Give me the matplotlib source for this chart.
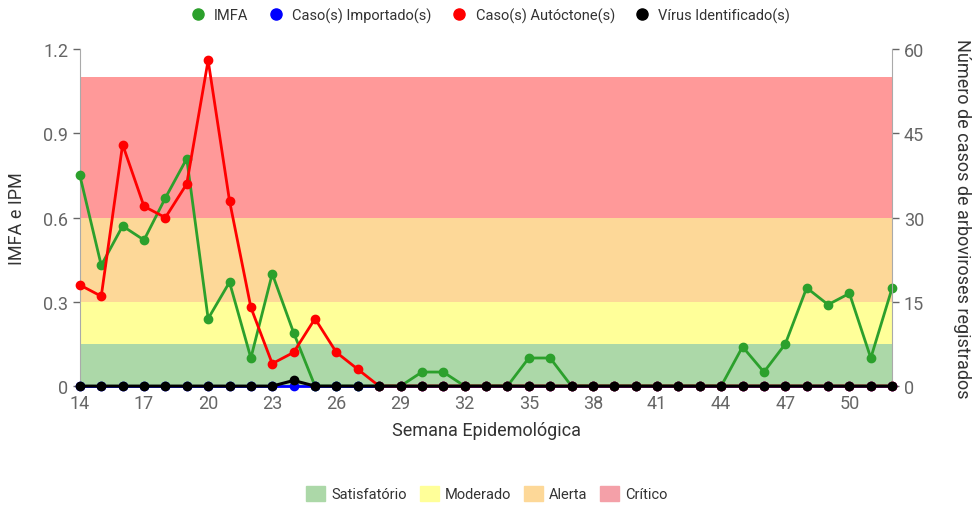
import numpy as np
import matplotlib
matplotlib.use("Agg")
import matplotlib.pyplot as plt
from matplotlib.patches import Patch
from matplotlib.lines import Line2D

plt.rcParams['font.family'] = ['Roboto', 'DejaVu Sans']

semanas = list(range(14, 53))
imfa = [0.75, 0.43, 0.57, 0.52, 0.67, 0.81, 0.24, 0.37, 0.10, 0.40,
        0.19, 0.0, 0.0, 0.0, 0.0, 0.0, 0.05, 0.05, 0.0, 0.0,
        0.0, 0.10, 0.10, 0.0, 0.0, 0.0, 0.0, 0.0, 0.0, 0.0,
        0.0, 0.14, 0.05, 0.15, 0.35, 0.29, 0.33, 0.10, 0.35]
importados = [0] * 39
autoctones = [18, 16, 43, 32, 30, 36, 58, 33, 14, 4,
              6, 12, 6, 3, 0, 0, 0, 0, 0, 0,
              0, 0, 0, 0, 0, 0, 0, 0, 0, 0,
              0, 0, 0, 0, 0, 0, 0, 0, 0]
virus = [0] * 39
virus[10] = 1  # semana 24

faixas = [("Satisfatório", 0.0, 0.15, "#acd8a8"),
          ("Moderado", 0.15, 0.30, "#ffff99"),
          ("Alerta", 0.30, 0.60, "#fdd898"),
          ("Crítico", 0.60, 1.10, "#ff9999")]

cinza = "#666666"

fig = plt.figure(figsize=(9.74, 5.06), dpi=100)
ax = fig.add_axes([0.082, 0.235, 0.834, 0.666])
ax2 = ax.twinx()

for nome, lo, hi, cor in faixas:
    ax.axhspan(lo, hi, color=cor, lw=0, zorder=0)

ax.plot(semanas, imfa, color="#2ca02c", lw=2, marker="o", ms=6, clip_on=False, zorder=3)
ax2.plot(semanas, importados, color="#0000ff", lw=2, marker="o", ms=6, clip_on=False, zorder=2)
ax2.plot(semanas, autoctones, color="#ff0000", lw=2, marker="o", ms=6, clip_on=False, zorder=3)
ax2.plot(semanas, virus, color="#000000", lw=2.2, marker="o", ms=6, clip_on=False, zorder=4)

ax.set_xlim(14, 52)
ax.set_ylim(0, 1.2)
ax2.set_ylim(0, 60)
ax.set_xticks(range(14, 53, 3))
ax.set_yticks([0, 0.3, 0.6, 0.9, 1.2])
ax.set_yticklabels(["0", "0.3", "0.6", "0.9", "1.2"])
ax2.set_yticks([0, 15, 30, 45, 60])

for a in (ax, ax2):
    for s in a.spines.values():
        s.set_visible(False)
    a.tick_params(colors=cinza, labelsize=13, length=5, width=1)
ax.spines['left'].set_visible(True)
ax.spines['left'].set_color("#aaaaaa")
ax2.spines['right'].set_visible(True)
ax2.spines['right'].set_color("#aaaaaa")
ax.tick_params(axis='x', length=0, pad=6)

ax.set_xlabel("Semana Epidemológica", fontsize=13, color="#333333", labelpad=6)
ax.set_ylabel("IMFA e IPM", fontsize=13, color="#333333", labelpad=12)
ax2.set_ylabel("Número de casos de arboviroses registrados", fontsize=13,
               color="#333333", rotation=-90, labelpad=34)

handles = [Line2D([], [], color=c, marker="o", ls="", ms=8)
           for c in ["#2ca02c", "#0000ff", "#ff0000", "#000000"]]
labels = ["IMFA", "Caso(s) Importado(s)", "Caso(s) Autóctone(s)", "Vírus Identificado(s)"]
fig.legend(handles, labels, loc="center", bbox_to_anchor=(0.5, 0.968), ncol=4,
           frameon=False, fontsize=10.5, handletextpad=0.1, columnspacing=0.9,
           labelcolor="#333333")

patches = [Patch(color=c if n != "Crítico" else "#f4a0a8") for n, lo, hi, c in faixas]
fig.legend(patches, [f[0] for f in faixas], loc="center", bbox_to_anchor=(0.5, 0.023),
           ncol=4, frameon=False, fontsize=10.5, handlelength=1.3, handleheight=1.2,
           handletextpad=0.4, columnspacing=0.9, labelcolor="#333333")

fig.savefig("out.png", dpi=100)
